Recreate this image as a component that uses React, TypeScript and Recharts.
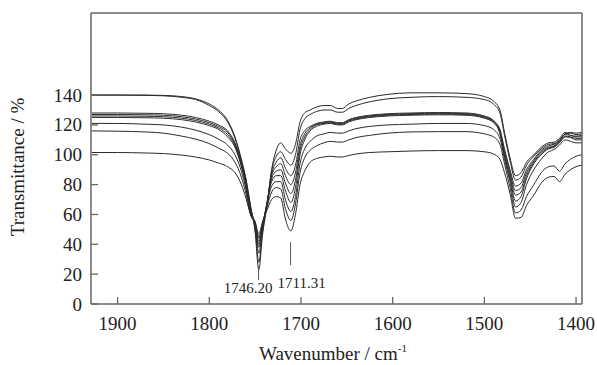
import { LineChart, Line, XAxis, YAxis, ReferenceLine } from 'recharts'

// wavenumber grid (cm-1)
const wavenumbers = [
    1928, 1900, 1870, 1850, 1830, 1815, 1800, 1790, 1780, 1772, 1765, 1760, 1755, 1750, 1746, 1742,
    1737, 1732, 1727, 1722, 1717, 1711, 1706, 1701, 1696, 1690, 1683, 1675, 1668, 1660, 1655, 1648,
    1640, 1625, 1605, 1580, 1550, 1520, 1500, 1490, 1483, 1478, 1472, 1466, 1460, 1454, 1446, 1438,
    1430, 1424, 1418, 1412, 1406, 1400, 1394,
]

const specA = [
    140, 140, 140, 139.8, 139, 137.5, 134, 130, 123, 112, 97, 84, 66, 48, 23, 46,
    66, 90, 103, 108, 104, 101, 107, 122, 128, 130, 132, 133, 133, 131, 131, 134,
    136, 138.5, 140.5, 141.5, 141.5, 141, 139, 136, 130, 115, 98, 86, 88, 95, 100, 105,
    108, 108.5, 111, 115, 113, 112.5, 113,
]
const specB = [
    140, 140, 139.8, 139.5, 138.5, 137, 133, 129, 122, 111, 96, 83, 65, 50, 28, 48,
    67, 89, 99, 102, 97, 93, 100, 117, 124, 127, 129, 130, 130, 128.5, 128.5, 131,
    133, 135.5, 137.5, 138.5, 139, 138.5, 137, 134, 128, 113, 96, 83, 85, 93, 99, 104,
    107, 107.5, 110, 114, 115, 114.5, 115,
]
const specC = [
    128, 128, 127.8, 127.5, 126.5, 125, 122.5, 120, 116, 108, 95, 82, 64, 52, 34, 50,
    67, 87, 95, 98, 91, 86, 93, 110, 116, 119, 121, 122, 122.5, 121.5, 121.5, 123.5,
    125, 126.5, 127.5, 128, 128.3, 128, 126, 123, 117, 104, 90, 79, 81, 90, 97, 103,
    106, 107, 109.5, 114, 114.5, 113.5, 114,
]
const specD = [
    127, 127, 126.8, 126.5, 125.5, 124, 121.5, 119, 115, 107, 94, 81, 63, 53, 38, 51,
    67, 86, 92, 94, 86, 80, 88, 106, 114, 118, 120.5, 121.5, 122, 121, 121, 123,
    124.5, 126, 127, 127.5, 127.8, 127.5, 125.5, 122.5, 116, 102, 88, 76, 78, 88, 96, 102,
    105, 106, 109, 113.5, 113, 112, 112,
]
const specE = [
    126, 126, 125.8, 125.5, 124.5, 123, 120.5, 118, 113.5, 106, 93, 80, 62, 53, 40, 52,
    68, 84, 89, 90, 81, 74, 83, 103, 112, 117, 120, 121, 121.5, 120.5, 120.5, 122.5,
    124, 125.5, 126.5, 127, 127.3, 127, 125, 122, 115, 100, 86, 73, 75, 86, 95, 101,
    104.5, 105.5, 108.5, 112.5, 112, 111, 111,
]
const specF = [
    125, 125, 124.8, 124.5, 123.5, 122, 119.5, 117, 112, 105, 92, 79, 61, 54, 42, 52,
    68, 82, 86, 86, 76, 68, 78, 100, 110, 116, 119, 120.5, 121, 120, 120, 122,
    123.5, 125, 126, 126.5, 126.8, 126.5, 124.5, 121.5, 114, 99, 84, 69, 72, 84, 94, 100,
    104, 105, 108, 112, 111.5, 110, 110,
]
const specG = [
    121, 121, 120.5, 120, 118.5, 116.5, 113.5, 110.5, 106.5, 100, 89, 77, 60, 54, 44, 53,
    67, 79, 82, 82, 70, 62, 72, 94, 104, 109, 112.5, 114, 115, 114.5, 114.5, 116,
    117.5, 119, 120, 120.5, 121, 121, 119.5, 117, 111, 97, 82, 65, 68, 80, 90, 97,
    102, 103.5, 106.5, 110, 109, 108, 108,
]
const specH = [
    116, 115.8, 115.3, 114.5, 112.5, 110.5, 107.5, 104.5, 101, 95, 85, 74, 60, 55, 45, 54,
    65, 75, 78, 77, 64, 56, 67, 88, 98, 103, 106, 108, 109, 108.5, 108.5, 110,
    111.5, 113, 114.5, 115.3, 115.5, 115.5, 114, 112, 107, 94, 78, 61, 63, 72, 80, 88,
    92, 92.5, 89, 94, 97, 99, 100,
]
const specI = [
    101.5, 101.5, 101.2, 100.8, 99.8, 98.5, 96.5, 94.5, 92, 88, 80, 71, 60, 55, 47, 55,
    63, 70, 72, 71, 57, 49, 60, 80, 89, 95, 97.5, 98.5, 99, 98.5, 98.5, 99.5,
    100.5, 101.5, 102, 102.5, 102.8, 102.8, 102, 100.5, 97, 88, 74, 57.5, 58, 66, 73, 81,
    85, 85.5, 82, 87, 90, 92, 93,
]

const spectra = [specA, specB, specC, specD, specE, specF, specG, specH, specI]

const xTicks = [1900, 1800, 1700, 1600, 1500, 1400]
const yTicks = [0, 20, 40, 60, 80, 100, 120, 140]
const peaks = [1746.2, 1711.31]

const data = wavenumbers.map((wn, i) => {
    const row: Record<string, number> = { wn }
    spectra.forEach((s, k) => {
        row['s' + k] = s[i]
    })
    return row
})

const FONT = '"Liberation Serif", "Times New Roman", serif'
const AXIS = '#666'
const X_DOMAIN: [number, number] = [1393.5, 1929]
const Y_DOMAIN: [number, number] = [0, 195]

function XTick(props: any) {
    const { x, y, payload } = props
    return (
        <g>
            <line x1={x} y1={y} x2={x} y2={y - 7} stroke={AXIS} strokeWidth={1.3} />
            <text x={x} y={y + 26} textAnchor="middle" fontSize={19} fontFamily={FONT} fill="#222">
                {payload.value}
            </text>
        </g>
    )
}

function YTick(props: any) {
    const { x, y, payload } = props
    return (
        <g>
            <line x1={x} y1={y} x2={x + 7} y2={y} stroke={AXIS} strokeWidth={1.3} />
            <text x={x - 9} y={y + 6.5} textAnchor="end" fontSize={19} fontFamily={FONT} fill="#222">
                {payload.value}
            </text>
        </g>
    )
}

function XTitle() {
    return (
        <text x={333} y={360} textAnchor="middle" fontSize={19} fontFamily={FONT} fill="#222">
            Wavenumber / cm
            <tspan fontSize={11} dy={-8}>-1</tspan>
        </text>
    )
}

function YTitle() {
    const cy = 167
    const cx = 24
    return (
        <text
            x={cx}
            y={cy}
            transform={`rotate(-90 ${cx} ${cy})`}
            textAnchor="middle"
            fontSize={19}
            fontFamily={FONT}
            fill="#222"
        >
            Transmittance / %
        </text>
    )
}

function PeakLabel(dx: number, dy: number, text: string) {
    return (props: any) => {
        const { viewBox } = props
        const x = viewBox.x + dx
        const y = viewBox.y + viewBox.height + dy
        return (
            <text x={x} y={y} textAnchor="middle" fontSize={15} fontFamily={FONT} fill="#222">
                {text}
            </text>
        )
    }
}

export default function App() {
    return (
        <div style={{ position: 'absolute', left: 0, top: 0, background: '#fff' }}>
            <LineChart
                width={597}
                height={365}
                data={data}
                margin={{ top: 13, right: 15, bottom: 0, left: 0 }}
            >
                <XAxis
                    dataKey="wn"
                    type="number"
                    domain={X_DOMAIN}
                    reversed
                    ticks={xTicks}
                    tick={<XTick />}
                    tickSize={0}
                    tickMargin={0}
                    tickLine={false}
                    height={61}
                    interval={0}
                    axisLine={{ stroke: AXIS, strokeWidth: 1.5 }}
                    allowDataOverflow
                    label={<XTitle />}
                />
                <YAxis
                    type="number"
                    domain={Y_DOMAIN}
                    ticks={yTicks}
                    tick={<YTick />}
                    tickSize={0}
                    tickMargin={0}
                    tickLine={false}
                    width={91}
                    interval={0}
                    axisLine={{ stroke: AXIS, strokeWidth: 1.5 }}
                    allowDataOverflow
                    label={<YTitle />}
                />
                <ReferenceLine y={Y_DOMAIN[1]} stroke={AXIS} strokeWidth={1.5} />
                <ReferenceLine x={X_DOMAIN[0]} stroke={AXIS} strokeWidth={1.5} />
                {spectra.map((_, k) => (
                    <Line
                        key={k}
                        dataKey={'s' + k}
                        type="monotone"
                        stroke="#2b2b2b"
                        strokeWidth={1}
                        dot={false}
                        activeDot={false}
                        isAnimationActive={false}
                    />
                ))}
                <ReferenceLine
                    segment={[
                        { x: peaks[0], y: 16 },
                        { x: peaks[0], y: 25 },
                    ]}
                    stroke="#555"
                    strokeWidth={1}
                    label={PeakLabel(-10.5, 13, peaks[0].toFixed(2))}
                />
                <ReferenceLine
                    segment={[
                        { x: peaks[1], y: 26 },
                        { x: peaks[1], y: 41.5 },
                    ]}
                    stroke="#555"
                    strokeWidth={1}
                    label={PeakLabel(11, 23, peaks[1].toFixed(2))}
                />
            </LineChart>
        </div>
    )
}
